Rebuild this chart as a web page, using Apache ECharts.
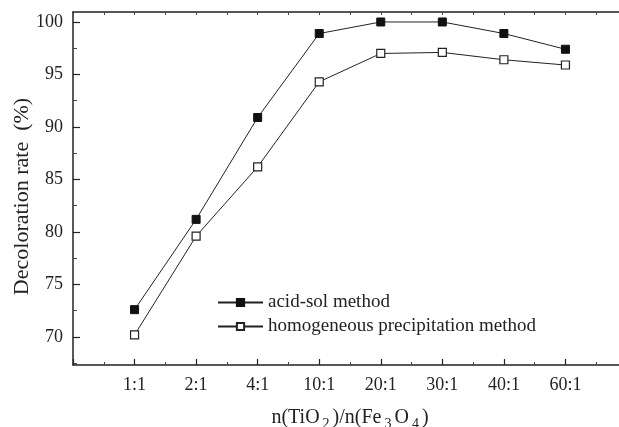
<!DOCTYPE html>
<html>
<head>
<meta charset="utf-8">
<script src="https://cdn.jsdelivr.net/npm/echarts@6/dist/echarts.min.js"></script>
<style>
html,body{margin:0;padding:0;background:#fff;}
#main{width:619px;height:427px;}
</style>
</head>
<body>
<div id="main"></div>
<script>
var ratios = ['1:1','2:1','4:1','10:1','20:1','30:1','40:1','60:1'];
var acidSol = [72.6, 81.2, 90.9, 98.9, 100.0, 100.0, 98.9, 97.4];
var homogeneous = [70.2, 79.6, 86.2, 94.3, 97.0, 97.1, 96.4, 95.9];
var yTicks = [70, 75, 80, 85, 90, 95, 100];
var yMinorTicks = [67.5, 72.5, 77.5, 82.5, 87.5, 92.5, 97.5];

function pts(arr){
	var out = [];
	for(var i=0;i<arr.length;i++){ out.push([i+1, arr[i]]); }
	return out;
}

var font = '"Liberation Serif", "DejaVu Serif", serif';
var yMin = 67.33, yMax = 100.95;
var Chart1 = echarts.init(document.getElementById('main'));

Chart1.setOption({
	animation: false,
	textStyle: {fontFamily: font, color: '#222'},
	grid: {left: 73, right: -8, top: 12, bottom: 62, containLabel: false, outerBoundsMode: 'none'},
	legend: {
		orient: 'vertical',
		left: 212,
		top: 288,
		itemWidth: 45,
		itemHeight: 9,
		itemGap: 5,
		textStyle: {fontFamily: font, fontSize: 19, color: '#222'},
		data: ['acid-sol method', 'homogeneous precipitation method']
	},
	xAxis: [
		{
			type: 'value',
			min: 0,
			max: 9,
			interval: 1,
			name: '{t|n(TiO}{s|2}{t|)/n(Fe}{s|3}{t|O}{s|4}{t|)}',
			nameLocation: 'middle',
			nameGap: 39,
			nameMoveOverlap: false,
			nameTextStyle: {
				rich: {
					t: {fontFamily: font, fontSize: 20, color: '#222', padding: [0,1,0,1]},
					s: {fontFamily: font, fontSize: 14, color: '#222', padding: [13,2,0,2]}
				}
			},
			axisLine: {lineStyle: {color: '#222', width: 1.5}},
			axisTick: {inside: true, length: 6, lineStyle: {color: '#222', width: 1.2}},
			minorTick: {show: true, splitNumber: 2, length: 3, lineStyle: {color: '#444'}},
			splitLine: {show: false},
			axisLabel: {
				fontFamily: font, fontSize: 18, color: '#222', margin: 11,
				formatter: function(v){ return ratios[v-1] || ''; }
			}
		},
		{
			type: 'value',
			position: 'top',
			min: 0,
			max: 9,
			interval: 1,
			axisLine: {show: true, lineStyle: {color: '#222', width: 1.5}},
			axisTick: {show: true, inside: true, length: 3, lineStyle: {color: '#444'}},
			minorTick: {show: true, splitNumber: 2, length: 3, lineStyle: {color: '#444'}},
			splitLine: {show: false},
			axisLabel: {show: false}
		}
	],
	yAxis: [
		{
			type: 'value',
			min: yMin,
			max: yMax,
			name: 'Decoloration rate  (%)',
			nameLocation: 'middle',
			nameGap: 40,
			nameMoveOverlap: false,
			nameTextStyle: {fontFamily: font, fontSize: 22, color: '#222', padding: [0, 16, 0, 0]},
			axisLine: {show: true, lineStyle: {color: '#222', width: 1.5}},
			axisTick: {inside: true, length: 7, customValues: yTicks, lineStyle: {color: '#222', width: 1.2}},
			splitLine: {show: false},
			axisLabel: {
				fontFamily: font, fontSize: 18, color: '#222', margin: 10,
				customValues: yTicks
			}
		},
		{
			type: 'value',
			position: 'left',
			min: yMin,
			max: yMax,
			axisLine: {show: false},
			axisTick: {show: true, inside: true, length: 4, customValues: yMinorTicks, lineStyle: {color: '#444'}},
			splitLine: {show: false},
			axisLabel: {show: false}
		}
	],
	series: [
		{
			name: 'acid-sol method',
			type: 'line',
			data: pts(acidSol),
			symbol: 'rect',
			symbolSize: 8,
			lineStyle: {color: '#222', width: 1},
			itemStyle: {color: '#111', borderColor: '#111', borderWidth: 1}
		},
		{
			name: 'homogeneous precipitation method',
			type: 'line',
			data: pts(homogeneous),
			symbol: 'rect',
			symbolSize: 8,
			lineStyle: {color: '#222', width: 1},
			itemStyle: {color: '#fff', borderColor: '#222', borderWidth: 1.2}
		}
	]
});
</script>
</body>
</html>
